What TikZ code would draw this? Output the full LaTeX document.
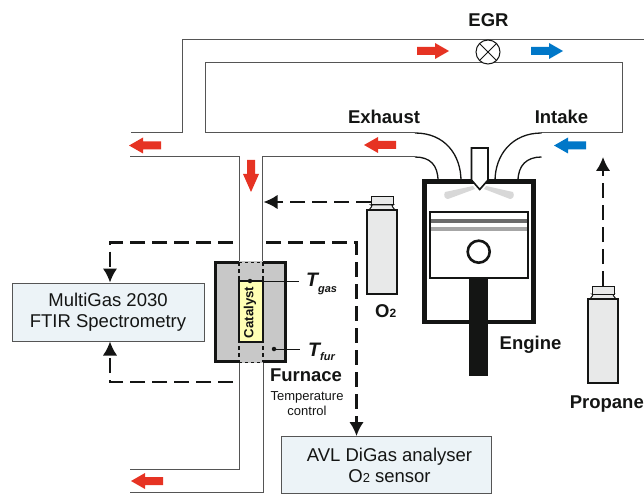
\documentclass[tikz,border=0pt]{standalone}
\usepackage{fontspec}
\setmainfont{Liberation Sans}
\usetikzlibrary{arrows.meta}
\definecolor{pipe}{HTML}{555555}
\definecolor{ink}{HTML}{141514}
\definecolor{redar}{HTML}{E63323}
\definecolor{bluear}{HTML}{0077C8}
\definecolor{boxfill}{HTML}{ECF3F7}
\definecolor{gasfill}{HTML}{E8E9E9}
\definecolor{furn}{HTML}{C8C8C8}
\definecolor{cat}{HTML}{FFFFB4}
\tikzset{
  pipeline/.style={draw=pipe,line width=1pt},
  flowdash/.style={draw=ink,line width=2.1pt,dash pattern=on 15pt off 7pt},
  flowarrow/.style={flowdash,-{Latex[length=14pt,width=14.5pt]},shorten >=0pt},
  lab/.style={font=\fontsize{18.5}{21}\selectfont\bfseries,text=ink,anchor=base,inner sep=0pt},
  smalllab/.style={font=\fontsize{13}{15}\selectfont,text=ink,anchor=base,inner sep=0pt},
  analyser/.style={draw=pipe,line width=1pt,fill=boxfill,align=center,inner sep=0pt,
     font=\fontsize{18.5}{21}\selectfont,text=ink},
  tempdot/.style={circle,fill=ink,inner sep=0pt,minimum size=4.5pt},
  tempsym/.style={font=\fontsize{19.5}{21}\selectfont\bfseries\itshape,text=ink,anchor=base west,inner sep=0pt},
  cyl/.pic={
    \draw[ink,line width=1pt,fill=gasfill] (-11,-5) .. controls (-9,-5) and (-11,-2) .. (-13,0) -- (13,0) .. controls (11,-2) and (9,-5) .. (11,-5) -- cycle;
    \draw[ink,line width=1pt,fill=gasfill] (-11,-13) rectangle (11,-5);
    \draw[ink,line width=1.6pt,fill=gasfill] (-15,0) rectangle (15,84);
  }
}
\newcommand{\blockL}[4]{\fill[#4] (#1,#3) -- (#1+14,#3-8) -- (#1+14,#3-4) -- (#2,#3-4) -- (#2,#3+4) -- (#1+14,#3+4) -- (#1+14,#3+8) -- cycle;}
\newcommand{\blockR}[4]{\fill[#4] (#2,#3) -- (#2-14,#3-8) -- (#2-14,#3-4) -- (#1,#3-4) -- (#1,#3+4) -- (#2-14,#3+4) -- (#2-14,#3+8) -- cycle;}
\begin{document}
\begin{tikzpicture}[x=1pt,y=-1pt]
\useasboundingbox (0,0) rectangle (644,494);
% pipes
\draw[pipeline] (131,133) -- (182,133) -- (182,40) -- (644,40);
\draw[pipeline] (415,133) -- (205.5,133) -- (205.5,62.5) -- (622.7,62.5) -- (622.7,133) -- (541,133);
\draw[pipeline] (130,157) -- (239,157) -- (239,262);
\draw[pipeline] (415,157) -- (262.5,157) -- (262.5,262);
\draw[pipeline] (239.5,362) -- (239.5,469) -- (130,469);
\draw[pipeline] (263.5,362) -- (263.5,492.5) -- (130,492.5);
% engine ports
\draw[ink,line width=1.3pt] (415,133) .. controls (445,133) and (461,155) .. (461,181);
\draw[ink,line width=1.3pt] (415,157) .. controls (430,157) and (438,165) .. (438,181);
\draw[ink,line width=1.3pt] (541.5,133) .. controls (512,133) and (495,155) .. (495,181);
\draw[ink,line width=1.3pt] (541.5,157) .. controls (527,157) and (518,165) .. (518,181);
% EGR valve
\node[circle,draw=ink,line width=1pt,fill=white,minimum size=24pt,inner sep=0pt] (egr) at (488,52) {};
\draw[ink,line width=1pt] (egr.north west) -- (egr.south east) (egr.north east) -- (egr.south west);
\node[lab] (egrlab) at (488.5,26.5) {EGR};
% engine
\draw[ink,line width=4.6pt] (424.5,181.5) rectangle (533.5,322);
\fill[furn!70!white] (473,186) -- (445,192) .. controls (443,196) and (445,199) .. (448,199) -- (475,189) -- cycle;
\fill[furn!70!white] (486,186) -- (513,192) .. controls (515,196) and (513,199) .. (510,199) -- (484,189) -- cycle;
\draw[ink,line width=1.6pt,fill=white] (471.5,148) -- (488,148) -- (488,180) -- (479.7,189.5) -- (471.5,180) -- cycle;
\draw[ink,line width=2.6pt,fill=white] (430,212) rectangle (528,278);
\fill[gray!85!black] (431.3,219) rectangle (526.7,223);
\fill[gray!70] (431.3,226.5) rectangle (526.7,230.5);
\draw[ink,line width=2.6pt] (478.7,251.7) circle (11);
\fill[ink] (469,279) rectangle (488,376);
% labels
\node[lab] (exh) at (384,124) {Exhaust};
\node[lab] (int) at (561.5,124) {Intake};
\node[lab] (eng) at (530.5,349) {Engine};
\node[lab,anchor=base west] (o2lab) at (375,317) {O{\fontsize{12}{12}\selectfont 2}};
\node[lab] (prop) at (606.8,408) {Propane};
% furnace
\fill[furn] (214,261) rectangle (287,363);
\draw[ink,line width=3pt] (239,262.5) -- (215.5,262.5) -- (215.5,361.5) -- (239,361.5);
\draw[ink,line width=3pt] (263,262.5) -- (285.5,262.5) -- (285.5,361.5) -- (263,361.5);
\draw[ink,line width=1pt,dash pattern=on 3pt off 3pt] (239,262) -- (263,262) (239,362) -- (263,362);
\draw[ink,line width=1.3pt,dash pattern=on 4pt off 3pt] (239,262) -- (239,362) (263,262) -- (263,362);
\node[draw=ink,line width=1.2pt,fill=cat,minimum width=24pt,minimum height=61pt,inner sep=0pt] (catalyst) at (251,311.5) {};
\node[rotate=90,font=\fontsize{13.2}{15}\selectfont\bfseries,text=ink,inner sep=0pt] (catlab) at (250,312.5) {Catalyst};
\node[tempdot] (tg) at (250,281) {};
\node[tempdot] (tf) at (274,349) {};
\coordinate (tgend) at (299,281);
\coordinate (tfend) at (300,349);
\draw[ink,line width=0.8pt] (tg) -- (tgend);
\draw[ink,line width=0.8pt] (tf) -- (tfend);
\node[tempsym] (tgs) at (306,286.5) {T\raisebox{-5.5pt}{\fontsize{11}{13}\selectfont gas}};
\node[tempsym] (tfs) at (308,356) {T\raisebox{-4pt}{\fontsize{11}{13}\selectfont fur}};
\node[lab] (furlab) at (306,381.7) {Furnace};
\node[smalllab] (t1) at (307,400) {Temperature};
\node[smalllab] (t2) at (307,415) {control};
% analysers
\node[analyser,minimum width=192pt,minimum height=58pt] (ftir) at (108,312) {MultiGas 2030\\FTIR Spectrometry};
\node[analyser,minimum width=210pt,minimum height=57pt] (avl) at (386.5,465) {\hspace*{6pt}AVL DiGas analyser\\\hspace*{6pt}O{\fontsize{13}{13}\selectfont 2} sensor};
% cylinders
\pic (oxy) at (382,210) {cyl};
\pic (pro) at (603,299) {cyl};
\coordinate (oxyout) at (371,202);
\coordinate (proout) at (603,286);
\coordinate (pipeO) at (263.5,202);
\coordinate (intakein) at (603,157);
\draw[flowarrow] (oxyout) -- (pipeO);
\draw[flowarrow] (proout) -- (intakein);
% sampling lines
\coordinate (leftgap) at (233,242.5);
\coordinate (rightgap) at (266,242.5);
\coordinate (bottomgap) at (233,382);
\draw[flowarrow] (leftgap) -- (110,242.5) -- (ftir.north -| 110,0);
\draw[flowarrow] (bottomgap) -- (110,382) -- (ftir.south -| 110,0);
\draw[flowarrow] (rightgap) -- (356.5,242.5) -- (avl.north -| 356.5,0);
% block arrows
\blockR{417}{449}{51}{redar}
\blockR{531}{563}{51}{bluear}
\blockL{364}{396}{145}{redar}
\blockL{554}{586}{145.5}{bluear}
\blockL{129}{161}{145.5}{redar}
\blockL{131}{163}{481}{redar}
\fill[redar] (251,192) -- (243,174) -- (247,174) -- (247,160) -- (255,160) -- (255,174) -- (259,174) -- cycle;
\end{tikzpicture}
\end{document}
